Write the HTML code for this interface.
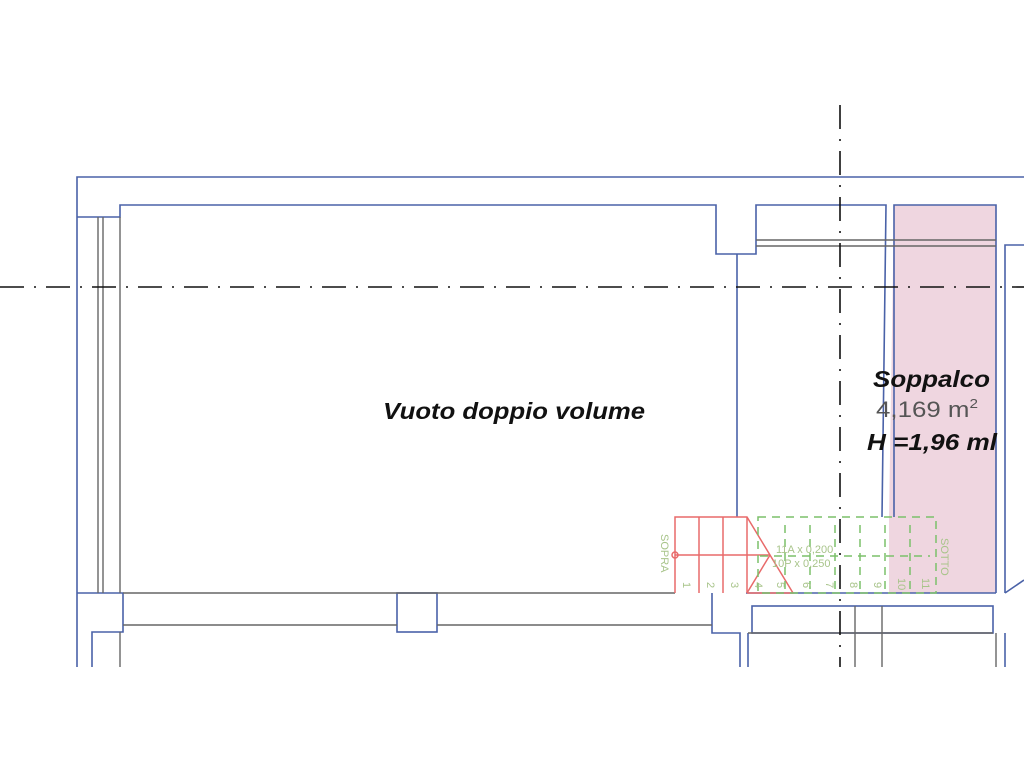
<!DOCTYPE html>
<html><head><meta charset="utf-8"><style>body{margin:0;background:#fff}svg{display:block}</style></head><body>
<svg width="1024" height="768" viewBox="0 0 1024 768" xmlns="http://www.w3.org/2000/svg" font-family="Liberation Sans, sans-serif">
<rect width="1024" height="768" fill="#fff"/>
<polygon points="894,205 996,205 996,593 889,593 889,517" fill="#efd6e0"/>
<g fill="none" stroke="#4a62a8" stroke-width="1.6">
<polyline points="77,667 77,177 1024,177"/>
<polyline points="77,217 120,217 120,205 716,205 716,254 756,254 756,205 886,205 882,517"/>
<polyline points="894,517 894,205 996,205 996,593"/>
<polyline points="1024,245 1005,245 1005,593"/>
<line x1="737" y1="254" x2="737" y2="517"/>
<polyline points="77,593 123,593 123,632 92,632 92,667"/>
<rect x="397" y="593" width="40" height="39"/>
<polyline points="746,593 996,593"/>
<polyline points="712,593 712,633 740,633 740,667"/>
<rect x="752" y="606" width="241" height="27"/>
<line x1="748" y1="633" x2="748" y2="667"/>
<line x1="1005" y1="633" x2="1005" y2="667"/>
<line x1="1005" y1="593" x2="1024" y2="580"/>
</g>
<g fill="none" stroke="#666" stroke-width="1.4">
<line x1="98" y1="217" x2="98" y2="593"/>
<line x1="103" y1="217" x2="103" y2="593"/>
<line x1="120" y1="217" x2="120" y2="593"/>
<line x1="123" y1="593" x2="675" y2="593"/>
<line x1="123" y1="625" x2="397" y2="625"/>
<line x1="437" y1="625" x2="712" y2="625"/>
<line x1="120" y1="632" x2="120" y2="667"/>
<line x1="756" y1="240" x2="996" y2="240"/>
<line x1="756" y1="246" x2="996" y2="246"/>
<line x1="748" y1="633" x2="993" y2="633"/>
<line x1="855" y1="606" x2="855" y2="667"/>
<line x1="882" y1="606" x2="882" y2="667"/>
<line x1="996" y1="633" x2="996" y2="667"/>
</g>
<g stroke="#111" stroke-width="1.6" stroke-dasharray="24,10,2,10" fill="none">
<line x1="0" y1="287" x2="1024" y2="287"/>
<line x1="840" y1="105" x2="840" y2="667"/>
</g>
<g stroke="#e86a6a" stroke-width="1.5" fill="none">
<polyline points="675,593 675,517 747,517 793,593 747,593"/>
<line x1="699" y1="517" x2="699" y2="593"/>
<line x1="723" y1="517" x2="723" y2="593"/>
<line x1="747" y1="517" x2="747" y2="593"/>
<line x1="675" y1="555" x2="770" y2="555"/>
<line x1="770" y1="555" x2="747" y2="593"/>
<circle cx="675" cy="555" r="3"/>
</g>
<g stroke="#7cc06a" stroke-width="1.5" fill="none" stroke-dasharray="8,6">
<rect x="758" y="517" width="178" height="76"/>
<line x1="785" y1="525" x2="785" y2="590"/>
<line x1="810" y1="525" x2="810" y2="590"/>
<line x1="835" y1="525" x2="835" y2="590"/>
<line x1="860" y1="525" x2="860" y2="590"/>
<line x1="885" y1="525" x2="885" y2="590"/>
<line x1="910" y1="525" x2="910" y2="590"/>
<line x1="760" y1="556" x2="930" y2="556"/>
</g>
<g fill="#a8c48a" font-size="11">
<text x="776" y="553">11A x 0,200</text>
<text x="772" y="567">10P x 0,250</text>
<text transform="translate(661,534) rotate(90)">SOPRA</text>
<text transform="translate(941,538) rotate(90)">SOTTO</text>
<text transform="translate(683,582) rotate(90)">1</text>
<text transform="translate(707,582) rotate(90)">2</text>
<text transform="translate(731,582) rotate(90)">3</text>
<text transform="translate(755,582) rotate(90)">4</text>
<text transform="translate(777,582) rotate(90)">5</text>
<text transform="translate(803,582) rotate(90)">6</text>
<text transform="translate(826,582) rotate(90)">7</text>
<text transform="translate(850,582) rotate(90)">8</text>
<text transform="translate(874,582) rotate(90)">9</text>
<text transform="translate(898,578) rotate(90)">10</text>
<text transform="translate(922,578) rotate(90)">11</text>
</g>
<text x="383" y="419" textLength="262" lengthAdjust="spacingAndGlyphs" font-size="23" font-weight="bold" font-style="italic" fill="#111">Vuoto doppio volume</text>
<text x="873" y="387" textLength="117" lengthAdjust="spacingAndGlyphs" font-size="23" font-weight="bold" font-style="italic" fill="#111">Soppalco</text>
<text x="876" y="417" font-size="22" fill="#555" textLength="102" lengthAdjust="spacingAndGlyphs">4,169 m<tspan font-size="13" dy="-9">2</tspan></text>
<text x="867" y="450" textLength="130" lengthAdjust="spacingAndGlyphs" font-size="23" font-weight="bold" font-style="italic" fill="#111">H =1,96 ml</text>
</svg>
</body></html>
